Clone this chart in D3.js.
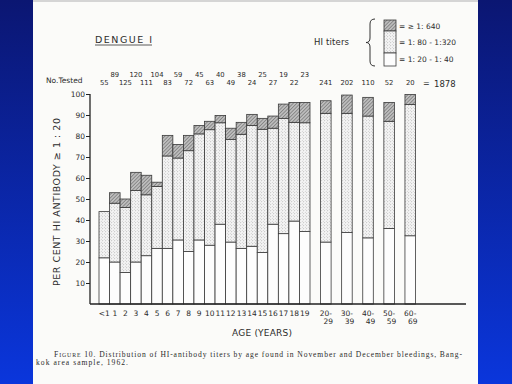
<!DOCTYPE html>
<html>
<head>
<meta charset="utf-8">
<script src="https://cdn.jsdelivr.net/npm/d3@7"></script>
<style>
  body { margin: 0; }
  svg { display: block; }
  text { font-family: "DejaVu Sans", sans-serif; fill: #2b2b2b; }
</style>
</head>
<body>
<script>
// HI antibody titers by age, Dengue 1
const width = 512, height = 384

const ages = ["<1","1","2","3","4","5","6","7","8","9","10","11","12","13","14","15","16","17","18","19",
              "20-29","30-39","40-49","50-59","60-69"]
const tested = [55,89,125,120,111,104,83,59,72,45,63,40,49,38,24,25,27,19,22,23,241,202,110,52,20]
const totalTested = 1878

// cumulative per cent at the top of each band
const lowTop = [22,20,15,20,23,26.5,26.5,30.5,25,30.5,28,38,29.5,26.5,27.5,24.5,38,33.5,39.5,34.5,29.5,34,31.5,36,32.5]
const midTop = [44,48,46,54,52,56,70.5,69.5,73,81,83,86.3,78.4,80.8,85,83.2,83.7,88.4,86.5,86.3,90.8,90.8,89.5,87,95]
const highTop = [44,53,50,62.7,61.3,58,80.3,76,80.3,85,87,89.8,83.7,86.5,90.3,88.4,89.5,95.2,96,96,96.8,99.5,98.4,96,99.8]

const yTicks = [10,20,30,40,50,60,70,80,90,100]
const legendLabels = ["= \u2265 1: 640", "= 1: 80 - 1:320", "= 1: 20 - 1: 40"]

// singles take slots 0-19, the decade groups every other slot from 21
function slot(i){ return i < 20 ? i : 21 + (i - 20) * 2 }

const x = d3.scaleBand()
    .domain(d3.range(30))
    .range([99, 415.5])
    .padding(0)

const y = d3.scaleLinear()
    .domain([0, 100])
    .range([304, 94])

const svg = d3.select("body").append("svg")
    .attr("width", width)
    .attr("height", height)

const defs = svg.append("defs")

const bg = defs.append("linearGradient")
    .attr("id", "bg")
    .attr("x1", 0).attr("y1", 0).attr("x2", 0).attr("y2", 1)
bg.append("stop").attr("offset", "0%").attr("stop-color", "#0b1672")
bg.append("stop").attr("offset", "100%").attr("stop-color", "#0a36dc")

const hatch = defs.append("pattern")
    .attr("id", "hatch")
    .attr("patternUnits", "userSpaceOnUse")
    .attr("width", 2.5).attr("height", 2.5)
    .attr("patternTransform", "rotate(45)")
hatch.append("rect").attr("width", 2.5).attr("height", 2.5).attr("fill", "#bdbdbd")
hatch.append("line")
    .attr("x1", 0).attr("y1", 0).attr("x2", 0).attr("y2", 2.5)
    .attr("stroke", "#5a5a5a").attr("stroke-width", 1)

const dots = defs.append("pattern")
    .attr("id", "dots")
    .attr("patternUnits", "userSpaceOnUse")
    .attr("width", 3).attr("height", 3)
dots.append("rect").attr("width", 3).attr("height", 3).attr("fill", "#f4f4f4")
dots.append("circle").attr("cx", 0.75).attr("cy", 0.75).attr("r", 0.42).attr("fill", "#888")
dots.append("circle").attr("cx", 2.25).attr("cy", 2.25).attr("r", 0.42).attr("fill", "#aaa")

svg.append("rect")
    .attr("width", width).attr("height", height)
    .attr("fill", "url(#bg)")

svg.append("rect")
    .attr("x", 33).attr("y", 0)
    .attr("width", 445).attr("height", height)
    .attr("fill", "#fbfbf9")
svg.append("line")
    .attr("x1", 33).attr("x2", 478).attr("y1", 1).attr("y2", 1)
    .attr("stroke", "#c8c8c8").attr("stroke-width", 1.5)

// bars
const bars = svg.selectAll(".bar")
    .data(ages)
    .enter().append("g")
      .attr("class", "bar")

const bandDefs = [
    { lo: function(i){ return 0 }, hi: function(i){ return lowTop[i] }, fill: "#fdfdfd" },
    { lo: function(i){ return lowTop[i] }, hi: function(i){ return midTop[i] }, fill: "url(#dots)" },
    { lo: function(i){ return midTop[i] }, hi: function(i){ return highTop[i] }, fill: "url(#hatch)" }
]

bandDefs.forEach(function(b){
  bars.append("rect")
      .attr("x", function(d, i){ return x(slot(i)) })
      .attr("width", x.bandwidth())
      .attr("y", function(d, i){ return y(b.hi(i)) })
      .attr("height", function(d, i){ return Math.max(0, y(b.lo(i)) - y(b.hi(i))) })
      .attr("fill", b.fill)
      .attr("stroke", "#3a3a3a")
      .attr("stroke-width", 0.8)
})

// axes
const yAxis = svg.append("g")
    .attr("transform", "translate(90,0)")
    .call(d3.axisLeft(y).tickValues(yTicks).tickSize(4).tickSizeOuter(0).tickPadding(1))
yAxis.select(".domain").attr("stroke", "#222").attr("stroke-width", 1.3)
    .attr("d", "M0," + y(100) + "V" + y(0))
yAxis.selectAll(".tick line").attr("stroke", "#222").attr("stroke-width", 1)
yAxis.selectAll(".tick text")
    .style("font-family", "DejaVu Sans, sans-serif")
    .style("font-size", "7.5px")
    .attr("fill", "#2b2b2b")

svg.append("line")
    .attr("x1", 90).attr("x2", 466)
    .attr("y1", y(0)).attr("y2", y(0))
    .attr("stroke", "#222").attr("stroke-width", 1.3)

// x labels
const xLabels = svg.selectAll(".xlab")
    .data(ages)
    .enter().append("text")
      .attr("class", "xlab")
      .attr("text-anchor", "middle")
      .attr("y", 316)
      .style("font-size", "7.5px")

xLabels.append("tspan")
    .attr("x", function(d, i){ return x(slot(i)) + x.bandwidth() / 2 })
    .text(function(d){ return d.indexOf("-") > 0 ? d.split("-")[0] + "-" : d })
xLabels.filter(function(d){ return d.indexOf("-") > 0 })
  .append("tspan")
    .attr("x", function(d){ return x(slot(ages.indexOf(d))) + x.bandwidth() / 2 + 2.5 })
    .attr("dy", 7.5)
    .text(function(d){ return d.split("-")[1] })

svg.append("text")
    .attr("x", 262).attr("y", 336)
    .attr("text-anchor", "middle")
    .attr("textLength", 60)
    .style("font-size", "9px")
    .text("AGE (YEARS)")

svg.append("text")
    .attr("transform", "translate(60,202) rotate(-90)")
    .attr("text-anchor", "middle")
    .attr("textLength", 168)
    .style("font-size", "9.5px")
    .text("PER CENT  HI  ANTIBODY  \u2265 1 : 20")

// numbers tested
svg.append("text")
    .attr("x", 46).attr("y", 83)
    .style("font-size", "7.5px")
    .text("No.Tested")

svg.selectAll(".ntest")
    .data(tested)
    .enter().append("text")
      .attr("class", "ntest")
      .attr("text-anchor", "middle")
      .attr("x", function(d, i){ return x(slot(i)) + x.bandwidth() / 2 })
      .attr("y", function(d, i){ return (i < 20 && i % 2 === 1) ? 76.5 : 85 })
      .style("font-size", "6.8px")
      .text(function(d){ return d })

svg.append("text")
    .attr("x", 423).attr("y", 86)
    .style("font-size", "8px")
    .text("=")
svg.append("text")
    .attr("x", 434).attr("y", 86.5)
    .style("font-size", "8.5px")
    .text(totalTested)

// title
svg.append("text")
    .attr("x", 95).attr("y", 42.5)
    .attr("textLength", 57)
    .style("font-size", "9.5px")
    .text("DENGUE  I")
svg.append("line")
    .attr("x1", 95).attr("x2", 152)
    .attr("y1", 45).attr("y2", 45)
    .attr("stroke", "#333").attr("stroke-width", 0.8)

// legend
svg.append("text")
    .attr("x", 314).attr("y", 45)
    .attr("textLength", 35)
    .style("font-size", "8.5px")
    .text("HI  titers")

svg.append("path")
    .attr("d", "M375,19 Q370,19 370,24 L370,38 Q370,42.5 366,42.5 Q370,42.5 370,47 L370,61 Q370,66 375,66")
    .attr("fill", "none")
    .attr("stroke", "#333").attr("stroke-width", 1)

const legendBands = [
    { y0: 20, y1: 31, fill: "url(#hatch)" },
    { y0: 31, y1: 53, fill: "url(#dots)" },
    { y0: 53, y1: 66, fill: "#fdfdfd" }
]
svg.selectAll(".lg")
    .data(legendBands)
    .enter().append("rect")
      .attr("class", "lg")
      .attr("x", 384).attr("width", 12)
      .attr("y", function(d){ return d.y0 })
      .attr("height", function(d){ return d.y1 - d.y0 })
      .attr("fill", function(d){ return d.fill })
      .attr("stroke", "#3a3a3a").attr("stroke-width", 0.8)

svg.selectAll(".lgt")
    .data(legendLabels)
    .enter().append("text")
      .attr("class", "lgt")
      .attr("x", 399)
      .attr("y", function(d, i){ return [29, 45, 62][i] })
      .style("font-size", "7.5px")
      .text(function(d){ return d })

// caption
const cap = svg.append("text")
    .attr("x", 54).attr("y", 356.5)
    .attr("textLength", 408)
    .style("font-family", "Liberation Serif, serif")
    .style("font-size", "7.6px")
cap.append("tspan").text("F").style("font-size", "7.6px")
cap.append("tspan").text("IGURE").style("font-size", "5.8px")
cap.append("tspan").text(" 10.  Distribution of HI-antibody titers by age found in November and December bleedings, Bang-")

svg.append("text")
    .attr("x", 36).attr("y", 364.5)
    .attr("textLength", 92)
    .style("font-family", "Liberation Serif, serif")
    .style("font-size", "7.6px")
    .text("kok area sample, 1962.")
</script>
</body>
</html>
